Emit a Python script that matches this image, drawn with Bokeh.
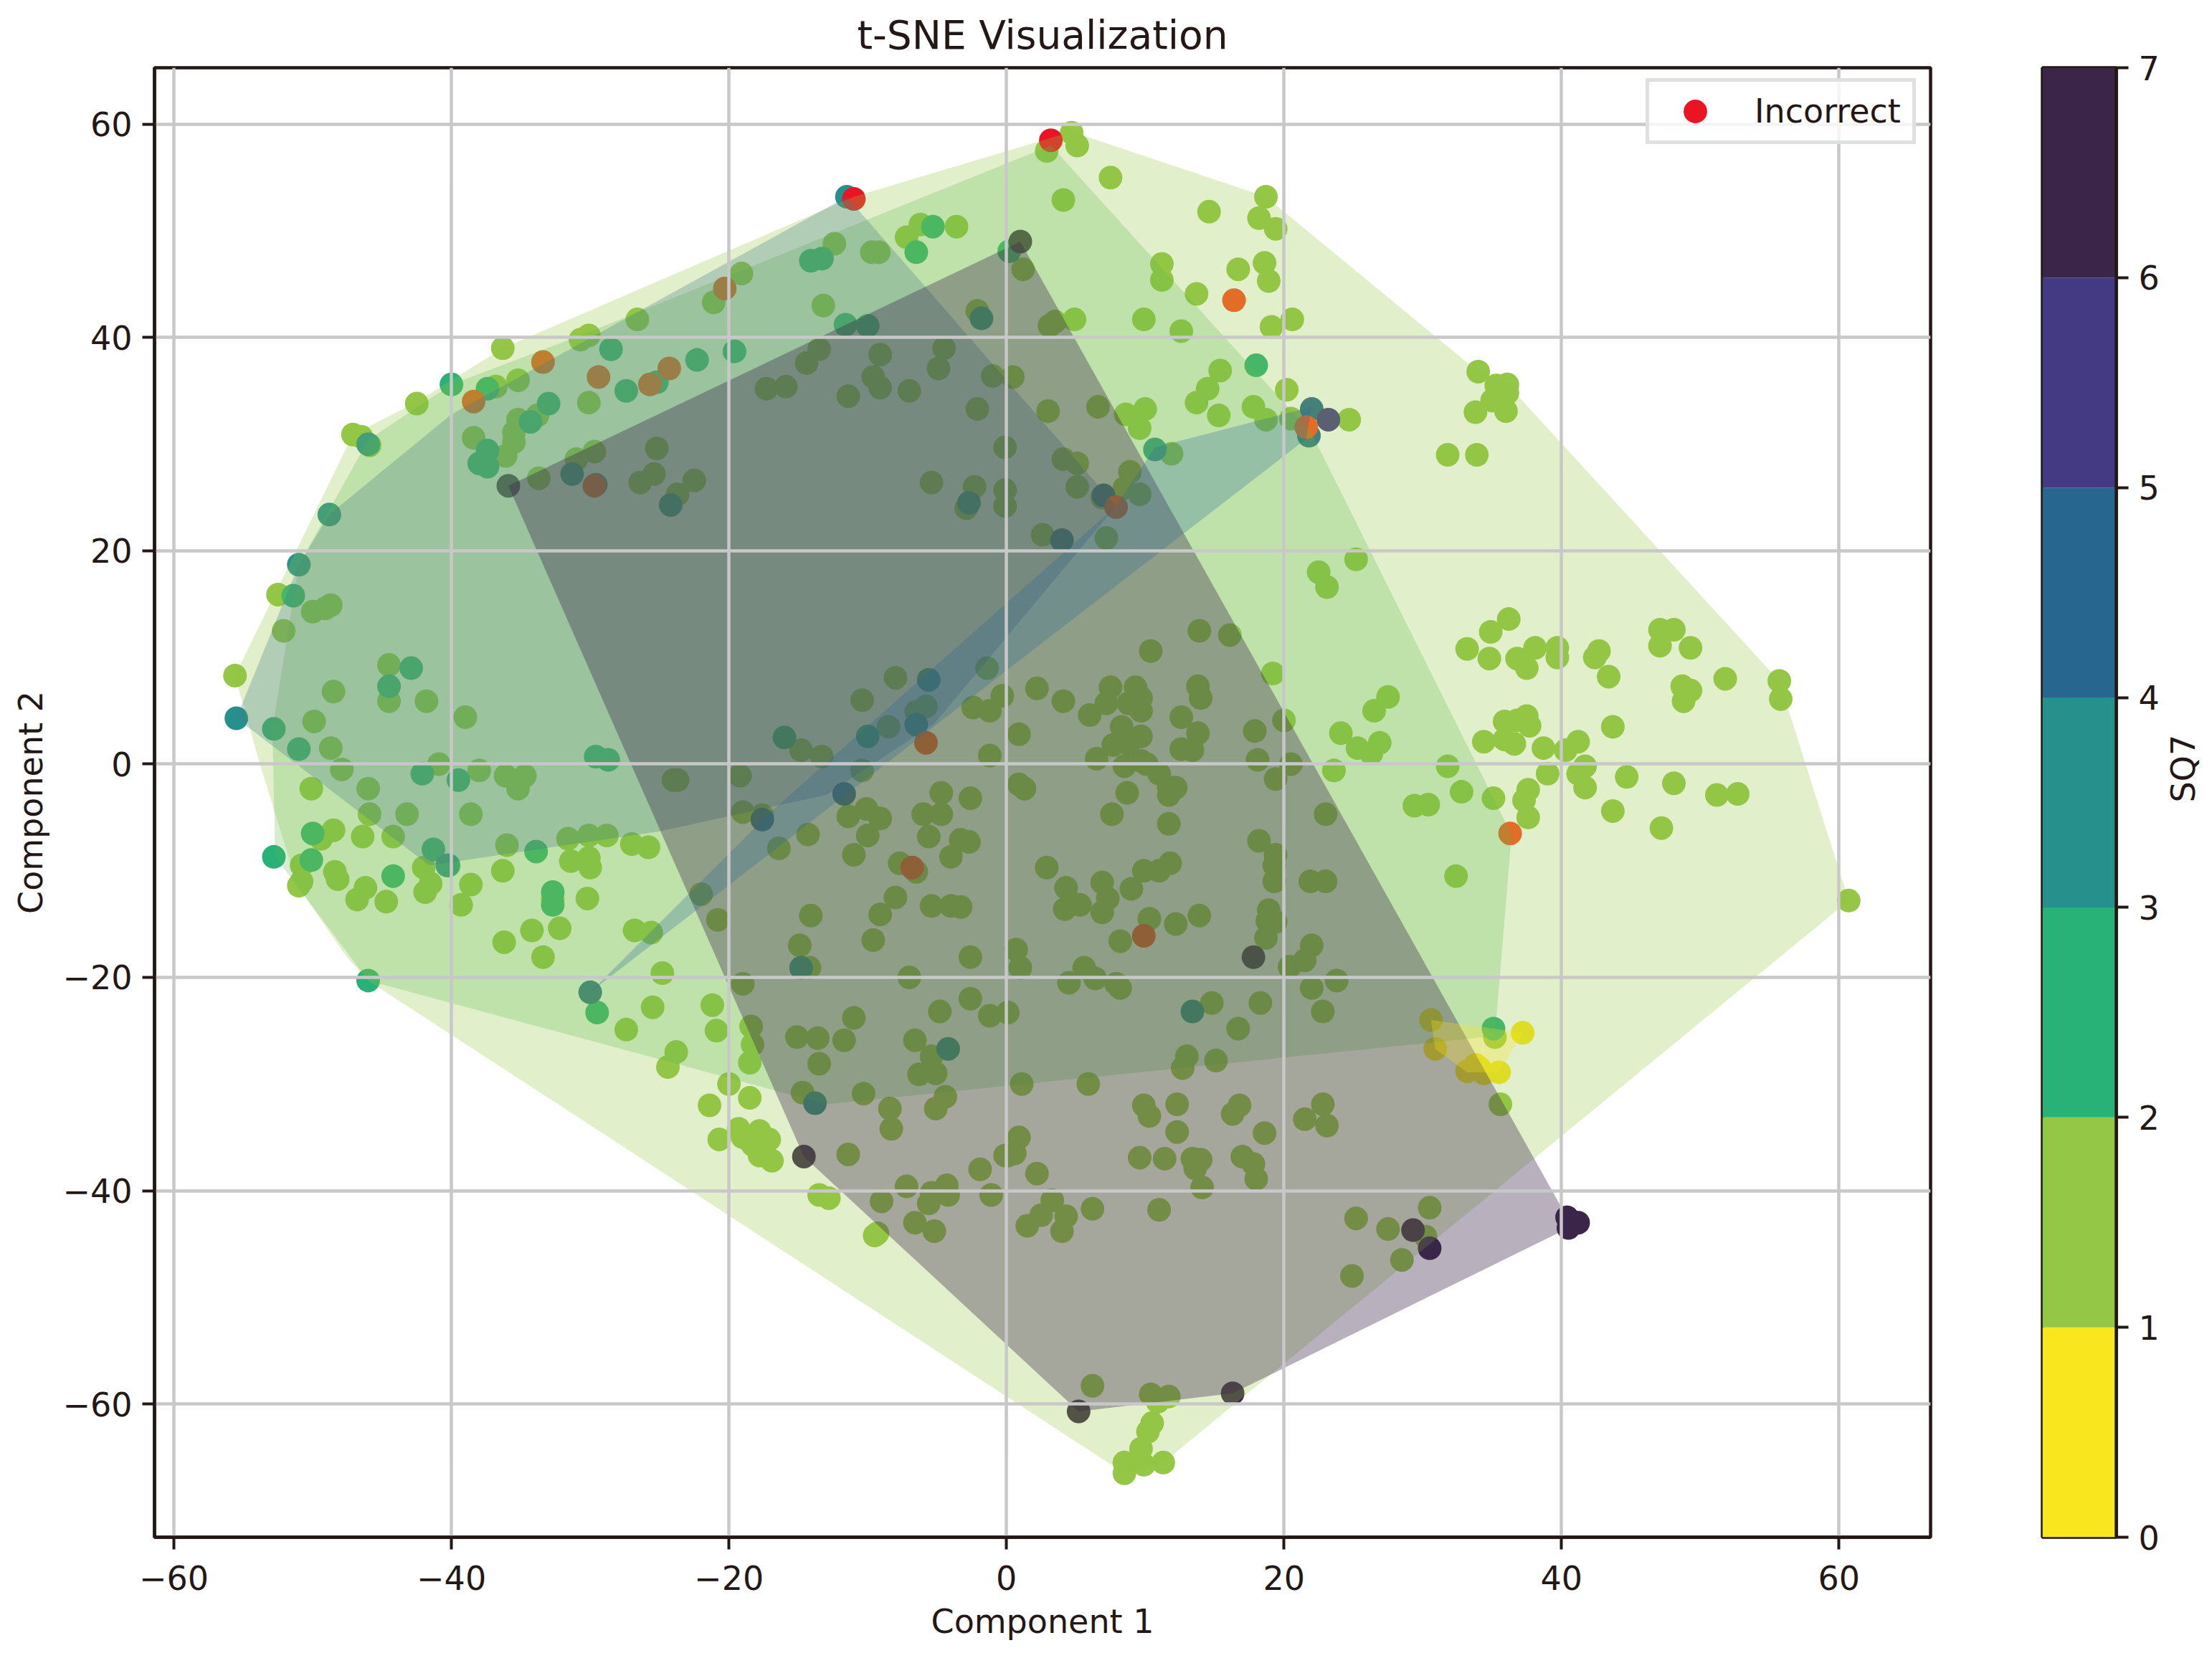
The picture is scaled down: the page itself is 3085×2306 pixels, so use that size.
import math
from bokeh.plotting import figure
from bokeh.embed import file_html
from bokeh.resources import INLINE
from bokeh.layouts import row
from bokeh.models import Range1d, FixedTicker, Legend, LegendItem

title_text = "t-SNE Visualization"
xlabel = "Component 1"
ylabel = "Component 2"
cbar_label = "SQ7"
legend_label = "Incorrect"
x_ticks = [-60, -40, -20, 0, 20, 40, 60]
y_ticks = [-60, -40, -20, 0, 20, 40, 60]
cbar_ticks = [0, 1, 2, 3, 4, 5, 6, 7]

class0 = [(30.6,-24),(30.9,-26.7),(37.2,-25.2),(35.5,-28.9),(34.1,-28.5),(33.2,-28.8),(34.4,-29),(33.8,-28.2)]
class1 = [
(-55.6,8.3),(-52.5,15.9),(-52.1,12.5),(-50,14.3),(-49.1,14.6),(-48.7,14.9),(-47.1,30.9),(-46.5,30.7),(-45.9,29.9),
(-42.5,33.8),(-36.3,39),(-38.4,30.6),(-36.8,35.4),(-35.2,36),(-33.8,32.7),(-35.2,32.3),(-35.5,31.1),(-35.5,30.2),
(-36.1,28.9),(-33.7,26.8),(-31,28.6),(-29.7,29.3),(-30.1,33.9),(-30.7,39.8),(-30.1,40.2),(-26.6,41.7),(-25.2,29.6),
(-26.4,26.4),(-25.4,27.2),(-22.5,26.6),(-23.7,25.3),(-21.1,43.3),(-19.1,46),(-17.3,35.2),(-15.9,35.4),(-14.4,37.6),
(-13.5,38.9),(-11.4,34.5),(-9.6,36.3),(-9.1,38.4),(-9.1,35.3),(-13.2,43),(-12.4,48.8),(-9.7,48),(-9.2,48),(-7.2,49.4),
(-6.2,50.6),(-3.6,50.4),(-7,35),(-4.5,39),(-4.9,37.1),(-2.1,42.5),(-2.1,33.3),(-1,36.4),(-0.1,29.7),(-5.4,26.4),
(-2.3,26),(-2.9,24),(-0.1,25.7),(-0.1,24.2),
(-44.5,9.3),(-44.5,5.9),(-48.5,6.8),(-41.8,5.9),(-39,4.4),(-49.9,4),(-48.7,1.5),(-47.9,-0.5),(-40.9,0),(-38,-0.6),
(-36.1,-1.1),(-34.7,-1.1),(-35.2,-2.3),(-46,-2.3),(-50.1,-2.3),(-45.9,-4.7),(-43.2,-4.7),(-38.6,-4.7),(-23.7,-1.5),
(-24,-1.5),(-19.2,-1.1),(-19,-4.5),(-17.6,-4.8),(-14.8,1.3),(-13.3,0.7),(-10.4,6),(-8,8.1),(-9.1,-5.1),(-6,-4.7),
(-4.7,-2.7),(-4.7,-4.7),(-2.6,-3.2),(-10.1,-4.2),(-11.4,-4.9),(-10.4,-0.6),(-8.5,3.5),(-6.5,4.9),(-5.8,5.4),(-2.4,5.3),
(-1.2,5),(-1.2,0.8),(-0.3,6.4),(-1.4,9),
(-49.4,-7),(-48.5,-6.2),(-46.4,-6.8),(-44.2,-6.8),(-50.8,-9.5),(-50.8,-11),(-51,-11.4),(-48.4,-10.1),(-48.2,-10.8),
(-46.2,-11.6),(-46.8,-12.7),(-44.7,-12.9),(-42,-9.7),(-41.5,-11.2),(-41.9,-12),(-38.6,-11.3),(-39.3,-13.2),(-36.3,-10),
(-36,-7.6),(-31.6,-7),(-30.1,-6.7),(-28.8,-6.7),(-27,-7.5),(-25.8,-7.8),(-31.4,-9.1),(-30.1,-8.8),(-30,-9.7),
(-32.7,-12.7),(-30.2,-12.6),(-32.2,-15.4),(-34.2,-15.6),(-36.2,-16.7),(-33.4,-18.1),(-26.8,-15.6),(-25.6,-15.8),
(-24.8,-19.6),(-25.5,-22.8),(-27.4,-24.9),(-21.2,-22.6),(-20.9,-25),(-23.8,-27),(-24.4,-28.4),(-20,-30),(-21.4,-32),
(-18.5,-31.3),(-18.5,-28),(-18.3,-26.3),(-18.4,-24.6),(-19,-20.6),(-20.8,-14.6),(-22,-12.2),(-16.4,-7.9),(-14.3,-6.6),
(-11,-8.5),(-10,-6.7),(-5.6,-6.8),(-3.3,-7.1),(-2.7,-7.3),(-4,-8.7),(-7.7,-9.3),(-6.5,-10.1),(-8,-12.5),(-9.1,-14.1),
(-14.1,-14.2),(-5.4,-13.3),(-4,-13.3),(-3.3,-13.4),(-9.6,-16.5),(-14.9,-17),(-14.2,-19.1),(-7,-20),(-2.6,-18.1),
(-2.6,-22),(-4.8,-23.2),(-1.2,-23.6),(-11,-23.8),(-15.1,-25.6),(-13.6,-25.7),(-11.7,-25.9),(-6.6,-25.9),(-13.5,-28.1),
(-5.4,-27.4),(-5.1,-29),(-6.3,-29.1),(-14.7,-30.8),(-10.3,-30.9),(-4.4,-31.2),(-5.1,-32.3),(-8.4,-32.3),(-8.3,-34.2),
(-19.3,-34.2),(-20.7,-35.2),(-17.8,-34.4),(-19,-35),(-17.1,-35.2),(-18.3,-35.7),(-17.8,-36.7),(-16.9,-37.2),(-11.4,-36.6),
(-0.1,-36.7),(-1.9,-38),(-7.2,-39.6),(-9,-41),(-5.6,-41.2),(-4.3,-39.5),(-4.2,-40.4),(-5.4,-40.2),(-1.1,-40.4),
(-13.5,-40.4),(-12.8,-40.7),(-6.6,-43),(-5.2,-43.8),(-9.5,-44.2),(-9.3,-44),
(4.7,59.2),(5.1,58),(2.9,57.5),(7.5,55),(4.1,52.9),(1.2,46.4),(14.6,51.8),(18.7,53.2),(18.2,51.2),(19.4,50.2),(16.7,46.4),
(18.6,47),(18.9,45.3),(11.2,46.9),(11.2,45.4),(13.7,44.1),(4.9,41.7),(3.5,41.5),(3.1,41.1),(9.9,41.7),(12.6,40.6),
(20.6,41.7),(19.1,41),(0.45,36.3),(3,33.1),(6.6,33.5),(8.6,32.8),(10,33.3),(9.6,31.5),(15.4,36.9),(14.5,35.2),(13.7,33.9),
(15.3,32.7),(17.8,33.5),(18.7,32.3),(20.2,35.1),(20.5,32.4),(24.7,32.3),(11.9,29.1),(4.1,28.6),(5.1,28.2),(5.1,26),
(8.9,27.4),(6.9,25),(9.6,25.3),(8.5,25.9),(2.6,21.5),(7.2,21.2),(25.2,19.2),(22.5,18),(23.1,16.6),(34,36.8),(35.3,35.5),
(36.1,35.6),(36.1,34.8),(35,34.1),(33.8,33),(36,33.1),(31.8,29),(33.9,29),(36.2,13.6),(34.9,12.4),(33.2,10.8),(34.8,9.9),
(36.8,9.9),(38.1,10.9),(37.5,9),(39.7,10.9),(39.7,10),(42.7,10.6),(42.4,10),(43.4,8.2),(47.1,12.6),(48.1,12.6),(47.1,11.1),
(49.3,10.9),(51.8,8),(55.7,7.8),(55.8,6.1),(48.7,7.3),(49.3,6.9),(48.8,5.9),(43.7,3.5),(35.9,4),(36.8,4.1),(37.5,4.5),
(37.7,3.6),(34.4,2.1),(35.9,2.3),(36.6,1.9),(41.2,2.1),(38.7,1.5),(40.3,1.3),(39,-0.9),(41.7,-0.2),(41.2,-0.9),(41.7,-2.2),
(44.7,-1.2),(48.1,-1.8),(51.2,-2.9),(52.7,-2.8),(37.6,-2.4),(37.3,-3.4),(37.6,-5),(35.1,-3.2),(32.8,-2.6),(31.8,-0.2),
(29.4,-3.9),(30.4,-3.8),(43.7,-4.4),(47.2,-6),(24.1,2.9),(25.3,1.5),(26.3,1),(26.9,2),(26.5,5),(27.5,6.3),(23.6,-0.6),
(23,-4.7),(19.2,8.5),(13.9,12.5),(16.1,12.1),(10.4,10.6),(2.2,7.1),(4.1,5.9),(6,4.6),(7.5,7.2),(7.2,5.7),(9.3,7.2),(8.8,5.7),
(9.7,6.2),(9.7,5),(13.8,7.3),(14,6.2),(12.6,4.4),(13.8,2.9),(17.9,3.1),(20,4.1),(8.3,3.5),(9.7,2.6),(7.7,1.8),(8.8,1.9),
(12.6,1.4),(13.4,1.3),(0.9,2.8),(6.5,0.5),(8.5,-0.2),(9.7,0.3),(10.1,0),(11,-0.9),(18.1,0.4),(20.5,0),(19.4,-1.4),(0.9,-1.9),
(1.3,-2.3),(11.7,-2.2),(12.2,-2.2),(8.7,-2.7),(11.7,-2.9),(7.6,-4.7),(11.7,-5.6),
(2.9,-9.7),(4.3,-11.6),(4.2,-13.6),(5.3,-13.2),(6.9,-11.1),(7.3,-12.6),(6.9,-13.9),(9,-11.7),(9.9,-10),(11,-10),(11.8,-9.3),
(12.2,-15),(13.9,-14.2),(10.3,-14.5),(8.2,-16.6),(0.7,-17.4),(1,-19.1),(18.2,-7.2),(19.4,-8.5),(19.3,-9.5),(19.3,-11),
(21.9,-11),(23,-11),(18.9,-13.7),(18.8,-14.7),(19.4,-14.8),(18.7,-16.3),(22,-17),(21.5,-18.4),(20.4,-19),(22,-21),(23.8,-20.3),
(22.8,-23.2),(18.3,-22.4),(14.8,-22.4),(16.7,-24.8),(15.1,-27.8),(13,-27.4),(12.7,-28.5),(4.5,-20.5),(5.6,-19.1),(6.4,-20.1),
(7.9,-20.6),(8.2,-21),(0.1,-23.3),(1.1,-30),(5.9,-30),(9.9,-32),(10.3,-33),(12.3,-31.9),(12.3,-34.5),(16.8,-32),(16.3,-32.8),
(18.6,-34.6),(22.8,-31.9),(23.1,-33.9),(21.5,-33.3),(9.6,-36.9),(11.4,-37),(13.4,-37),(14,-37.1),(13.6,-37.9),(14.1,-39.7),
(17,-36.8),(17.8,-37.5),(18,-38.9),(0.9,-35),(0.6,-36.5),(0.1,-36.7),(2.2,-38.4),(3.3,-40.9),(4.3,-42.4),(2.5,-42.3),(1.5,-43.3),
(4,-43.8),(6.2,-41.7),(11,-41.8),(25.2,-42.6),(27.5,-43.6),(30.2,-44.3),(30.5,-41.6),(28.5,-46.5),(24.9,-48),(35.6,-31.9),
(32.4,-10.5),(60.7,-12.8),(6.2,-58.3),(10.4,-59.1),(11.7,-59.3),(10.9,-59.8),(10.5,-61.8),(10.2,-62.6),(9.7,-64.2),(9.9,-65.7),
(11.3,-65.5),(8.5,-65.5),(8.5,-66.5),(35.2,-25.6),
]
class2 = [(-46,-20.3),(-52.8,-8.7),(-29.5,-23.3),(-52.8,3.3),(-51,1.4),(-42.9,9),(-44.5,7.3),(-42.1,-0.9),(-39.5,-1.5),
(-29.6,0.7),(-28.7,0.4),(-33.9,-8.2),(-44.2,-10.5),(-32.7,-12),(-32.7,-13.2),(-41.3,-8),(-40.2,-9.5),(-40,35.6),(-37.4,35.2),
(-33,33.8),(-34.3,32.1),(-37.4,29.4),(-38,28.2),(-37.4,27.9),(-25.2,35.8),(-27.4,35),(-28.5,38.9),(-22.3,37.9),(-19.6,38.7),
(-14.1,47.2),(-13.3,47.4),(-11.6,41.2),(-10,41.1),(-6.5,48),(-5.3,50.4),(0.2,48.1),(18,37.4),(35.1,-24.8),(-16,2.5),(-10,2.6),
(-50,-6.5),(-50.1,-9),(-51.4,15.8)]
class3 = [(-55.5,4.3),(-51,18.7),(-48.8,23.4),(-46,30),(-11.5,53.2),(10.7,29.5),(-40.3,-9.5),(-14.8,-19.1),(13.4,-23.2),
(-4.2,-26.7),(-13.8,-31.8),(-24.2,24.3),(-31.3,27.2),(-29.6,26.2),(-2.7,24.5),(-1.8,41.8),(-5.6,7.9),(-6.5,3.7)]
class4 = [(-30,-21.4),(-17.6,-5.2),(-11.7,-2.8),(22,33.3),(21.8,30.8),(7,25.2),(4,21)]
class5 = [(23.2,32.3)]
class6 = [(-35.9,26.1),(1,49),(17.8,-18.1),(-14.6,-36.8),(5.2,-60.7),(16.3,-59),(29.3,-43.7),(30.5,-45.4),
(40.4,-42.5),(40.5,-43.5),(41,-43),(41.2,-43)]
incorrect_edge = [(-11,53),(3.2,58.5)]
incorrect_inside = [(16.4,43.5),(21.6,31.6),(7.9,24.1),(-5.8,2),(-33.4,37.7),(-38.4,34),(-29.4,36.3),(-24.3,37.1),
(-25.7,35.6),(-20.3,44.6),(-29.7,26.1),(-6.8,-9.7),(9.9,-16.1),(36.3,-6.5)]

hull1 = [(-55.6,8.3),(-47.1,30.9),(-42.6,33.9),(-36.3,39),(-11,53.2),(4.7,59.3),(18.7,53.2),(34,36.8),(36.1,35.6),
(55.7,7.8),(60.7,-12.8),(11.3,-65.5),(8.5,-66.5),(-46,-20.3),(-47.6,-18),(-51.1,-11.4),(-53.8,0)]
hull2 = [(-46,-20.3),(-52.7,-8.7),(-52.9,3.3),(-51,18.7),(-46,30.4),(-40,35.6),(-30.5,40.3),(3.2,58),(22,31),(36.4,-6.6),(35.2,-25.5),
(-13,-31.9)]
hull3 = [(-55.5,4.3),(-51,18.7),(-48.8,23.4),(-40,32.8),(-11.5,53.2),(7.9,24.2),(-5.2,3.8),(-13,-2.9),(-25,-6.3),(-41.6,-9.5)]
hull4 = [(-30,-21.4),(-17,-4.5),(7.9,24.2),(10.7,29.7),(22,33.5),(21.6,30.5)]
hull0 = [(30.6,-24),(37.2,-25.2),(35.5,-28.9),(33.2,-28.9),(30.9,-26.7)]
hull6 = [(-35.9,26.1),(1,49),(40.4,-42.5),(40.5,-43.5),(16.3,-59),(5.2,-60.7),(-14.6,-36.8)]

palette = ["#FAE61E", "#95C746", "#29B278", "#26918C", "#27678F", "#443983", "#3B2649"]
RED = "#EB1423"
RED_UNDER_HULL = "#FF4B1C"
INK = "#231815"
GRID = "#C8C8C8"
TICK_PX = "46px"

p = figure(output_backend="svg", toolbar_location=None, frame_width=2477, frame_height=2050,
           x_range=Range1d(-61.4, 66.6), y_range=Range1d(-72.5, 65.3),
           min_border_left=215, min_border_right=78, min_border_top=93, min_border_bottom=150,
           x_axis_label=xlabel, y_axis_label=ylabel)
p.title.text = title_text
p.title.align = "center"
p.title.text_font = "DejaVu Sans"
p.title.text_font_size = "55px"
p.title.text_font_style = "normal"
p.title.text_color = INK
p.title.standoff = 28
p.outline_line_color = INK
p.outline_line_width = 4.5
p.outline_line_alpha = 1
p.background_fill_color = "white"

for ax, ticks in ((p.xaxis[0], x_ticks), (p.yaxis[0], y_ticks)):
    ax.ticker = FixedTicker(ticks=ticks)
    ax.major_label_text_font = "DejaVu Sans"
    ax.major_label_text_font_size = TICK_PX
    ax.major_label_text_color = INK
    ax.axis_label_text_font = "DejaVu Sans"
    ax.axis_label_text_font_size = TICK_PX
    ax.axis_label_text_font_style = "normal"
    ax.axis_label_text_color = INK
    ax.axis_line_color = INK
    ax.axis_line_width = 4.5
    ax.major_tick_line_color = INK
    ax.major_tick_line_width = 4
    ax.major_tick_in = 0
    ax.major_tick_out = 17
    ax.minor_tick_line_color = None
    ax.major_label_standoff = 14
    ax.axis_label_standoff = 14
p.xaxis[0].major_label_standoff = 22

for g in (p.xgrid[0], p.ygrid[0]):
    g.grid_line_color = GRID
    g.grid_line_width = 4.5
    g.level = "glyph"
p.xgrid[0].ticker = FixedTicker(ticks=x_ticks)
p.ygrid[0].ticker = FixedTicker(ticks=y_ticks)

def xs(pts):
    return [a for a, _ in pts]
def ys(pts):
    return [b for _, b in pts]

for pts, col in zip((class0, class1, class2, class3, class4, class5, class6), palette):
    p.scatter(xs(pts), ys(pts), size=33, fill_color=col, line_color=None, level="underlay")
red = p.scatter(xs(incorrect_edge), ys(incorrect_edge), size=33, fill_color=RED, line_color=None, level="underlay")
p.scatter(xs(incorrect_inside), ys(incorrect_inside), size=33, fill_color=RED_UNDER_HULL, line_color=None, level="underlay")

hull_layers = [(hull1, "#95C746", 0.28), (hull2, "#5DB649", 0.25), (hull3, "#457F84", 0.30),
               (hull6, "#3B2649", 0.36), (hull4, "#27679A", 0.27), (hull0, "#FAE61E", 0.28)]
for pts, col, a in hull_layers:
    p.patch(xs(pts), ys(pts), fill_color=col, fill_alpha=a, line_color=None, level="underlay")

legend = Legend(items=[LegendItem(label=legend_label, renderers=[red])], location=(2080, 1943), margin=0,
                padding=0, glyph_width=128, glyph_height=82, label_height=82, label_width=220, label_standoff=19, spacing=0,
                label_text_font="DejaVu Sans", label_text_font_size=TICK_PX, label_text_color=INK,
                background_fill_color="white", background_fill_alpha=0.8,
                border_line_color="#D9DBDB", border_line_alpha=0.85, border_line_width=5)
p.add_layout(legend)

cb = figure(output_backend="svg", toolbar_location=None, frame_width=103, frame_height=2050,
            x_range=Range1d(0, 1), y_range=Range1d(0, 7),
            min_border_left=78, min_border_right=120, min_border_top=93, min_border_bottom=150,
            x_axis_location=None, y_axis_location="right", y_axis_label=cbar_label)
cb.grid.visible = False
cb.outline_line_color = INK
cb.outline_line_width = 4.5
cb.outline_line_alpha = 1
levels = list(range(7))
cb.quad(left=[0] * 7, right=[1] * 7, bottom=levels, top=[v + 1 for v in levels], fill_color=palette, line_color=None)
ax = cb.yaxis[0]
ax.ticker = FixedTicker(ticks=cbar_ticks)
ax.major_label_text_font = "DejaVu Sans"
ax.major_label_text_font_size = TICK_PX
ax.major_label_text_color = INK
ax.axis_label_text_font = "DejaVu Sans"
ax.axis_label_text_font_size = TICK_PX
ax.axis_label_text_font_style = "normal"
ax.axis_label_text_color = INK
ax.axis_line_color = INK
ax.axis_line_width = 4.5
ax.major_tick_line_color = INK
ax.major_tick_line_width = 4
ax.major_tick_in = 0
ax.major_tick_out = 17
ax.minor_tick_line_color = None
ax.major_label_standoff = 14
ax.axis_label_standoff = 30
ax.axis_label_orientation = math.pi / 2
ax.axis_label_text_align = "center"
ax.axis_label_text_baseline = "middle"

layout = row(p, cb, spacing=0)
open("out.html", "w").write(file_html(layout, INLINE))
